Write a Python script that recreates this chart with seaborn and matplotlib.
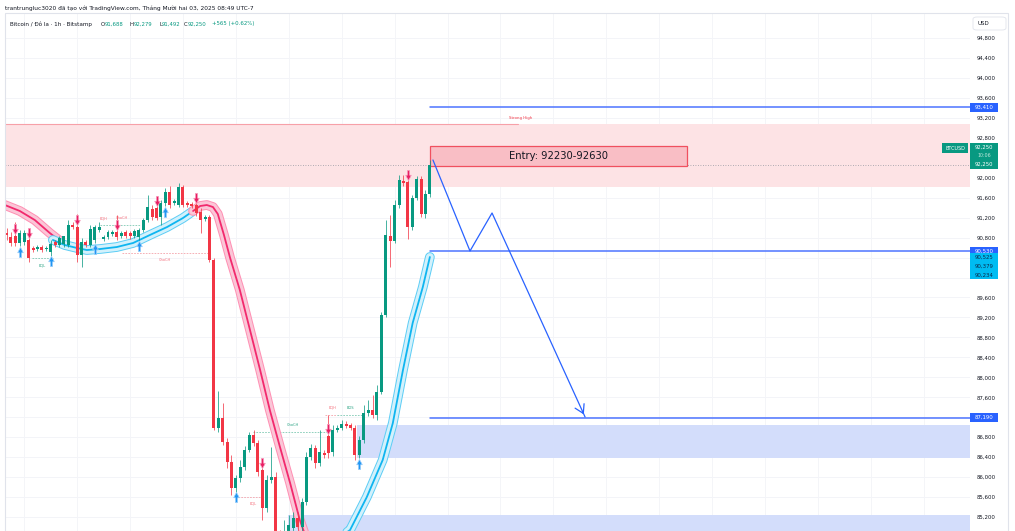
import numpy as np
import pandas as pd
import seaborn as sns
import matplotlib
matplotlib.use("Agg")
import matplotlib.pyplot as plt
from matplotlib.path import Path
from matplotlib.patches import Rectangle, FancyBboxPatch
import matplotlib.patheffects as pe
from matplotlib.transforms import blended_transform_factory

# ---------------- data (BTCUSD 1h, Bitstamp) ----------------
opens = [90890, 90810, 90830, 90690, 90710, 90750, 90590, 90570, 90610, 90570,
         90510, 90710, 90650, 90670, 90650, 91050, 91010, 90450, 90710, 90650,
         90750, 90950, 90770, 90810, 90870, 90910, 90830, 90910, 90890, 90830,
         90810, 90950, 91150, 91370, 91390, 91210, 91490, 91710, 91490, 91450,
         91810, 91490, 91470, 91450, 91310, 91170, 91210, 90350, 86980, 87190,
         86700, 86300, 85780, 85980, 86200, 86540, 86840, 86680, 86140, 85380,
         85940, 86000, 84840, 84340, 84740, 84980, 85180, 85000, 85500, 86400,
         86580, 86280, 86480, 86820, 86500, 86940, 86980, 87060, 87040, 86980,
         86440, 86740, 87290, 87350, 87250, 87700, 89250, 90830, 90730, 91450,
         91930, 91910, 91010, 91590, 91970, 91270, 91670]
highs = [90990, 90910, 91110, 90950, 90950, 90850, 90630, 90650, 90650, 90630,
         90750, 90750, 90830, 90830, 91150, 91110, 91270, 90790, 90750, 91050,
         91050, 91110, 90850, 90950, 90950, 91250, 90930, 90950, 90930, 90970,
         90990, 91190, 91650, 91450, 91630, 91550, 91790, 91830, 91570, 91890,
         91850, 91530, 91510, 91550, 91390, 91250, 91250, 90390, 87730, 87490,
         86780, 86440, 86040, 86340, 86620, 86900, 86940, 86740, 86240, 86040,
         86600, 86100, 84940, 85140, 85240, 85300, 85300, 85580, 86500, 86660,
         86640, 86940, 86540, 87240, 87040, 87040, 87140, 87120, 87080, 87040,
         86820, 87440, 87540, 87640, 87850, 89310, 91150, 91250, 91550, 92050,
         92050, 92050, 91650, 92030, 92030, 91750, 92350]
lows = [90750, 90630, 90630, 90630, 90650, 90310, 90510, 90530, 90510, 90530,
        90430, 90610, 90610, 90610, 90610, 90970, 90310, 90210, 90610, 90610,
        90690, 90910, 90730, 90770, 90830, 90750, 90790, 90790, 90770, 90790,
        90750, 90910, 91110, 91150, 91150, 91050, 91430, 91390, 91450, 91410,
        91410, 91410, 91390, 91230, 90890, 91130, 90310, 86940, 86900, 86640,
        86180, 85640, 85580, 85900, 86140, 86500, 86620, 86020, 85140, 85300,
        85880, 84640, 84140, 84240, 84640, 84900, 84900, 84900, 85440, 86340,
        86180, 86220, 86380, 86380, 86420, 86900, 86940, 86980, 86940, 86340,
        86380, 86680, 87220, 87180, 87140, 87660, 89210, 90210, 90690, 91390,
        91830, 90770, 90950, 91550, 91210, 91190, 91610]
closes = [90850, 90690, 90690, 90890, 90890, 90390, 90550, 90610, 90550, 90590,
          90670, 90650, 90790, 90830, 91050, 91010, 90450, 90710, 90650, 90970,
          91010, 91010, 90810, 90910, 90910, 90810, 90890, 90830, 90830, 90930,
          90950, 91150, 91410, 91210, 91190, 91490, 91710, 91450, 91530, 91810,
          91450, 91450, 91430, 91290, 91150, 91210, 90350, 86980, 87190, 86700,
          86300, 85780, 85980, 86200, 86540, 86840, 86680, 86100, 85380, 85940,
          86000, 84840, 84340, 84740, 85040, 85180, 85000, 85500, 86400, 86580,
          86280, 86500, 86440, 86480, 86940, 86980, 87060, 87020, 86980, 86440,
          86740, 87290, 87350, 87250, 87700, 89250, 90850, 90730, 91450, 91950,
          91890, 91010, 91590, 91970, 91270, 91670, 92250]

# trend band (bar index, price)
pink1_x = [-0.4, 3.0, 6.4, 9.8, 12.1]
pink1_y = [91453, 91333, 91152, 90892, 90732]
cyan1_x = [10.5, 13.2, 16.0, 18.2, 21.2, 25.0, 28.7, 32.5, 36.4, 40.0, 42.3]
cyan1_y = [90752, 90651, 90591, 90551, 90571, 90611, 90692, 90852, 91012, 91192, 91333]
pink2_x = [42.3, 43.9, 45.4, 46.8, 47.9, 49.3, 50.7, 52.9, 55.2, 57.5, 59.7, 62.0, 64.3, 66.5, 67.7]
pink2_y = [91333, 91433, 91453, 91413, 91273, 90852, 90391, 89750, 88949, 88147, 87345, 86603, 85882, 85140, 84840]
cyan2_x = [76.3, 77.9, 81.7, 85.3, 87.6, 89.9, 92.1, 94.4, 96.0]
cyan2_y = [84840, 84940, 85601, 86343, 87084, 88147, 89089, 89810, 90411]

down_arrows = [2, 5, 16, 25, 34, 43, 58, 73, 91]
up_arrows = [3, 10, 20, 30, 36, 52, 80]

# projected path (bar index, price)
path_x = [96.7, 105.1, 110.1, 131.2]
path_y = [92355, 90531, 91293, 87205]

level_prices = [93410, 90530, 87190]
level_labels = ["93,410", "90,530", "87,190"]
entry_low, entry_high = 92230, 92630
supply_low, supply_high = 91814, 93076
demand1 = (86383, 87044)
demand2 = (84900, 85240)
last_price = 92250
band_labels = ["90,525", "90,379", "90,234"]

struct_labels = [("EQL", 8.0, 90250, "g"), ("EQH", 21.9, 91192, "r"), ("ChoCH", 26.2, 91192, "r"),
                 ("ChoCH", 35.9, 90351, "r"), ("EQL", 55.9, 85481, "r"), ("ChoCH", 64.9, 87044, "g"),
                 ("EQH", 74.0, 87385, "r"), ("BOS", 77.9, 87385, "g")]
struct_lines = [(5.8, 10.5, 90391, "g"), (21.2, 30.3, 91052, "g"), (26.2, 45.7, 90491, "r"),
                (51.8, 58.1, 85601, "r"), (55.9, 72.9, 86904, "g"), (72.2, 74.9, 87245, "r"),
                (74.9, 80.8, 87245, "g")]

yticks = list(range(85200, 94801, 400))
hidden_ticks = [92400, 90400, 90000, 87200]   # covered by price badges

# ---------------- style ----------------
sns.set_theme(style="white")
plt.rcParams["font.family"] = ["DejaVu Sans"]

W, H = 1015, 531
GREEN, RED = "#089981", "#f23645"
BLUE = "#2962ff"
fig = plt.figure(figsize=(W / 100, H / 100), dpi=100)
fig.patch.set_facecolor("white")
ax = fig.add_axes([5 / W, 0, 965 / W, 1 - 13 / H])
ax.set_facecolor("white")
for s in ax.spines.values():
    s.set_visible(False)

XL, XR = -0.36, 218.5
YB, YT = 84920, 95301
ax.set_xlim(XL, XR)
ax.set_ylim(YB, YT)

# grid
for p in yticks:
    ax.axhline(p, color="#f3f4f8", lw=0.7, zorder=0)
for xi in np.arange(4, 219, 12):
    ax.axvline(xi, color="#f4f5f8", lw=0.7, zorder=0)

# zones
ax.axhspan(supply_low, supply_high, color="#fde3e5", zorder=0.5, lw=0)
ax.plot([XL, 116], [supply_high, supply_high], color="#f7a0a8", lw=0.8, zorder=0.6)
ax.text(116.5, 93197, "Strong High", color=RED, fontsize=2.8, ha="center", va="center")
ax.fill_between([63.8, XR], demand2[0], demand2[1], color="#d3ddfb", lw=0, zorder=0.5)
ax.fill_between([79.5, XR], demand1[0], demand1[1], color="#d3ddfb", lw=0, zorder=0.5)

# structure lines and labels
cmap = {"g": "#7ec9b3", "r": "#f4a3ab"}
tmap = {"g": "#2aa383", "r": "#f4707c"}
for x0, x1, p, c in struct_lines:
    ax.plot([x0, x1], [p, p], ls=(0, (2, 1.5)), color=cmap[c], lw=0.6, zorder=1)
for t, xi, p, c in struct_labels:
    ax.text(xi, p, t, color=tmap[c], fontsize=2.6, ha="center", va="center", zorder=1)

# dotted last price line
ax.axhline(last_price, color="#9598a1", lw=0.6, ls=(0, (1, 2)), zorder=1)

# bands
def band(xs, ys, core, edge, fill):
    df = pd.DataFrame({"x": xs, "y": ys})
    sns.lineplot(data=df, x="x", y="y", ax=ax, sort=False, estimator=None, color=core, lw=1.3,
                 zorder=3, path_effects=[pe.Stroke(linewidth=7, foreground=edge),
                                         pe.Stroke(linewidth=5.6, foreground=fill), pe.Normal()])

band(pink1_x, pink1_y, "#f2296d", "#ff8fb3", "#fbc6d7")
band(cyan1_x, cyan1_y, "#0fb5f0", "#5ccdf5", "#d2f1fc")
band(pink2_x, pink2_y, "#f2296d", "#ff8fb3", "#fbc6d7")
band(cyan2_x, cyan2_y, "#0fb5f0", "#5ccdf5", "#d2f1fc")

# candles
idx = np.arange(len(opens))
o = np.array(opens); h = np.array(highs); l = np.array(lows); c = np.array(closes)
up = c >= o
cols = np.where(up, GREEN, RED)
ax.vlines(idx, l, h, colors=cols, lw=0.7, alpha=0.75, zorder=4)
body_bottom = np.minimum(o, c)
body_h = np.maximum(np.abs(c - o), 18)
ax.bar(idx, body_h, bottom=body_bottom, width=0.68, color=cols, lw=0, zorder=5)

# signal arrows
arrow_down = Path([(-0.22, 1), (0.22, 1), (0.22, 0.05), (0.55, 0.05), (0, -1), (-0.55, 0.05), (-0.22, 0.05), (-0.22, 1)],
                  [Path.MOVETO] + [Path.LINETO] * 6 + [Path.CLOSEPOLY])
arrow_up = Path([(x, -y) for x, y in arrow_down.vertices], arrow_down.codes)
ax.scatter(idx[down_arrows], np.maximum(o, c)[down_arrows] + 140, marker=arrow_down, s=55,
           color="#e91e63", edgecolors="#f8a5c2", linewidths=0.5, zorder=6)
ax.scatter(idx[up_arrows], np.minimum(o, c)[up_arrows] - 170, marker=arrow_up, s=55,
           color="#2196f3", edgecolors="#a3d2fb", linewidths=0.5, zorder=6)

# levels
for p in level_prices:
    ax.plot([96, XR], [p, p], color="#4d74ff", lw=1.1, zorder=2)

# entry box
ax.add_patch(Rectangle((96, entry_low), 154.3 - 96, entry_high - entry_low, fc="#f9bec5",
                       ec="#f0505f", lw=0.9, zorder=2))
ax.text((96 + 154.3) / 2, (entry_low + entry_high) / 2, "Entry: 92230-92630", fontsize=7.2,
        color="#131722", ha="center", va="center", zorder=3)

# projected path
ax.plot(path_x, path_y, color=BLUE, lw=0.9, zorder=6)
ax.annotate("", xy=(path_x[-1], path_y[-1]), xytext=(path_x[-1] - 0.9, path_y[-1] + 160),
            arrowprops=dict(arrowstyle="->,head_length=0.5,head_width=0.3", color=BLUE, lw=0.9),
            zorder=6)

# price axis
ax.yaxis.tick_right()
ax.set_yticks(yticks)
ax.set_yticklabels(["" if v in hidden_ticks else f"{v:,}" for v in yticks])
ax.tick_params(axis="y", length=0, pad=4.5, labelsize=3.9, labelcolor="#131722")
ax.set_xticks([])
ax.set_xlabel(""); ax.set_ylabel("")

bt = blended_transform_factory(fig.transFigure, ax.transData)
PX = 20.04  # price per pixel

def badge(price, text, fc, tc, hpx=9):
    ax.add_patch(Rectangle((970 / W, price - hpx * PX / 2), 28 / W, hpx * PX, transform=bt,
                           fc=fc, ec="none", clip_on=False, zorder=7))
    ax.text(984 / W, price, text, transform=bt, fontsize=3.9, color=tc, ha="center",
            va="center", clip_on=False, zorder=8)

for p, t in zip(level_prices, level_labels):
    badge(p, t, BLUE, "white")
for k, t in enumerate(band_labels):
    badge(90411 - k * 180, t, "#00bcf2", "#0c2a4a")

# current price badge
ax.add_patch(Rectangle((970 / W, last_price - 4 * PX), 28 / W, 26 * PX, transform=bt,
                       fc=GREEN, ec="none", clip_on=False, zorder=7))
ax.text(984 / W, last_price + 17.5 * PX, "92,250", transform=bt, fontsize=3.8, color="white",
        ha="center", va="center", clip_on=False, zorder=8)
ax.text(984 / W, last_price + 9.5 * PX, "10:06", transform=bt, fontsize=3.4, color="#bfe8dc",
        ha="center", va="center", clip_on=False, zorder=8)
ax.text(984 / W, last_price + 1.2 * PX, "92,250", transform=bt, fontsize=3.8, color="white",
        ha="center", va="center", clip_on=False, zorder=8)
ax.add_patch(Rectangle((942 / W, last_price + 12 * PX), 26 / W, 10 * PX, transform=bt,
                       fc=GREEN, ec="none", clip_on=False, zorder=7))
ax.text(955 / W, last_price + 17 * PX, "BTCUSD", transform=bt, fontsize=3.5, color="white",
        ha="center", va="center", clip_on=False, zorder=8)

# frame and USD box
fig.add_artist(Rectangle((5 / W, 0), 1003 / W, 1 - 13 / H, transform=fig.transFigure,
                         fill=False, ec="#e0e3eb", lw=0.8))
fig.add_artist(FancyBboxPatch((973 / W, 1 - 30 / H), 33 / W, 13 / H, transform=fig.transFigure,
                              boxstyle="round,pad=0,rounding_size=0.004", fill=False,
                              ec="#e0e3eb", lw=0.6))
fig.text(977 / W, 1 - 23.5 / H, "USD", fontsize=4, color="#131722", va="center")

# header texts
fig.text(5 / W, 1 - 8 / H, "trantrungluc3020 đã tạo với TradingView.com, Tháng Mười hai 03, 2025 08:49 UTC-7",
         fontsize=4.25, color="#131722", va="center")
fig.text(10 / W, 1 - 24 / H, "Bitcoin / Đô la · 1h · Bitstamp", fontsize=4.1, color="#131722", va="center")
for lab, val, xp, off in [("O", "91,688", 101, 3.6), ("H", "92,279", 130, 3.5),
                          ("L", "91,492", 159, 2.7), ("C", "92,250", 184, 3.3)]:
    fig.text(xp / W, 1 - 24 / H, lab, fontsize=3.9, color="#131722", va="center")
    fig.text((xp + off) / W, 1 - 24 / H, val, fontsize=3.9, color=GREEN, va="center")
fig.text(212 / W, 1 - 24 / H, "+565 (+0.62%)", fontsize=3.9, color=GREEN, va="center")

fig.savefig("out.png", dpi=100, facecolor="white")
